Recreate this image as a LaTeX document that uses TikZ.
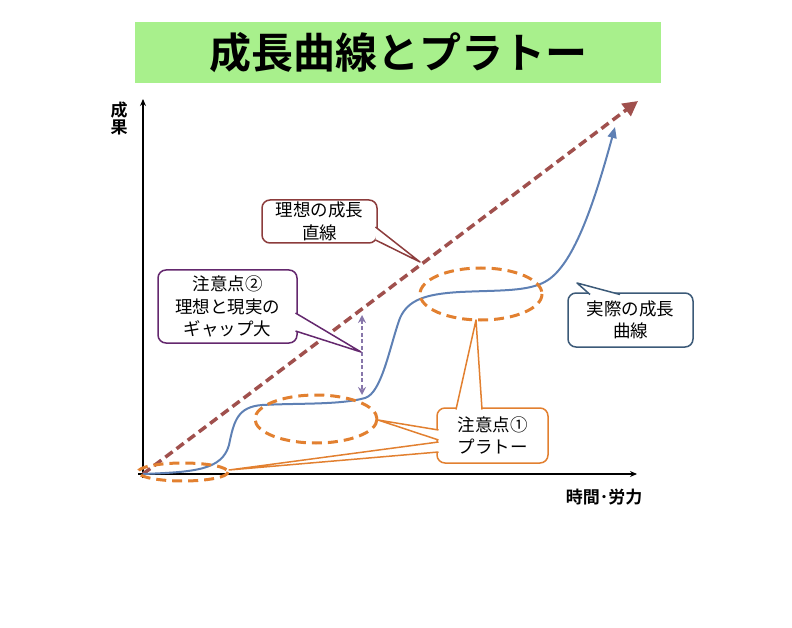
\documentclass[tikz,border=0pt]{standalone}
\usepackage{fontspec}
\setmainfont{Noto Sans CJK JP}[BoldFont={Noto Sans CJK JP Bold}]
\usetikzlibrary{arrows.meta}
\definecolor{titlegreen}{RGB}{168,240,140}
\definecolor{ideal}{RGB}{160,80,77}
\definecolor{actual}{RGB}{94,128,180}
\definecolor{plateau}{RGB}{226,128,48}
\definecolor{idealbox}{RGB}{140,60,60}
\definecolor{gapbox}{RGB}{100,40,110}
\definecolor{gaparrow}{RGB}{135,118,170}
\definecolor{actualbox}{RGB}{60,90,120}
\newcommand{\calloutwedge}[4]{%
  \fill[white] (#2) -- (#4) -- (#3) -- cycle;
  \draw[#1, line width=1.5pt, line join=round] (#2) -- (#4) -- (#3);}
\tikzset{
  axis/.style={line width=1.4pt, -{Stealth[length=7pt,width=6pt]}},
  callbox/.style={draw, fill=white, rounded corners=8pt, line width=1.5pt,
    align=center, inner sep=0pt, font=\fontsize{17.5}{22.5}\selectfont},
  plat/.style={draw=plateau, line width=3pt, dash pattern=on 10pt off 6pt},
  axlabel/.style={font=\fontsize{17}{17}\selectfont\bfseries, align=center, inner sep=0pt}
}
\begin{document}
\begin{tikzpicture}[x=1pt,y=-1pt]
\path[use as bounding box] (0,0) rectangle (792,628);
% title
\node[fill=titlegreen, minimum width=526pt, minimum height=61pt, inner sep=0pt,
  font=\fontsize{42}{44}\selectfont\bfseries] (title) at (398,52.5) {成長曲線とプラトー};
% axes
\coordinate (o) at (143,474);
\coordinate (ytop) at (143,99);
\coordinate (ybot) at (143,478);
\coordinate (xl) at (138,474);
\coordinate (xr) at (637,474);
\draw[axis] (ybot) -- (ytop);
\draw[axis] (xl) -- (xr);
\node[axlabel] (ylab) at (119,118) {成\\果};
\node[axlabel] (xlab) at (604,497) {時間･労力};
% ideal line
\coordinate (itip) at (638,101);
\draw[ideal, line width=3.5pt, dash pattern=on 9pt off 5pt,
  -{Triangle[length=15pt,width=15pt]}] (o) -- (itip);
% actual curve
\coordinate (atip) at (615,127);
\draw[actual, line width=2pt, -{Triangle[length=11pt,width=9pt]}]
  (o) .. controls (195,472) and (222,470) .. (229,445)
      .. controls (234,420) and (238,407) .. (262,405)
      .. controls (300,403) and (340,405) .. (365,398)
      .. controls (382,393) and (390,345) .. (400,318)
      .. controls (408,300) and (425,294) .. (460,292)
      .. controls (500,290) and (530,292) .. (548,280)
      .. controls (575,262) and (595,200) .. (atip);
% plateau ellipses
\draw[plat] (183,472) ellipse [x radius=45, y radius=9];
\draw[plat] (316,419) ellipse [x radius=61, y radius=24];
\draw[plat] (481,294) ellipse [x radius=61, y radius=26];
% gap arrow
\coordinate (gtop) at (362,315);
\coordinate (gbot) at (362,395);
\draw[gaparrow, line width=2.2pt, dash pattern=on 4pt off 2.5pt,
  {Stealth[length=8pt,width=8pt]}-{Stealth[length=8pt,width=8pt]}] (gtop) -- (gbot);
% callout: ideal
\node[callbox, draw=idealbox, minimum width=115pt, minimum height=43pt] (cideal) at (319.5,221.5) {理想の成長\\直線};
\coordinate (ia) at (375.5,227);
\coordinate (ib) at (375.5,240);
\coordinate (it) at (420,262);
\calloutwedge{idealbox}{ia}{ib}{it}
% callout: gap
\node[callbox, draw=gapbox, minimum width=139pt, minimum height=73pt] (cgap) at (227.5,306.5) {注意点②\\理想と現実の\\ギャップ大};
\coordinate (ga) at (295.5,313);
\coordinate (gb) at (295.5,331);
\coordinate (gt) at (361,352);
\calloutwedge{gapbox}{ga}{gb}{gt}
% callout: actual
\node[callbox, draw=actualbox, minimum width=125pt, minimum height=54pt] (cact) at (630.5,320) {実際の成長\\曲線};
\coordinate (aa) at (590,294.5);
\coordinate (ab) at (620,294.5);
\coordinate (at) at (577,283);
\calloutwedge{actualbox}{aa}{ab}{at}
% callout: plateau
\node[callbox, draw=plateau, minimum width=111pt, minimum height=55pt] (cplat) at (492.5,435.5) {注意点①\\プラトー};
\coordinate (pa) at (456,409.5);
\coordinate (pb) at (482,409.5);
\coordinate (pt) at (476,320);
\calloutwedge{plateau}{pa}{pb}{pt}
\coordinate (qa) at (438.5,430);
\coordinate (qb) at (438.5,440);
\coordinate (qt) at (378,420);
\calloutwedge{plateau}{qa}{qb}{qt}
\coordinate (ra) at (438.5,442);
\coordinate (rb) at (438.5,452);
\coordinate (rt) at (229,470);
\calloutwedge{plateau}{ra}{rb}{rt}
\end{tikzpicture}
\end{document}
